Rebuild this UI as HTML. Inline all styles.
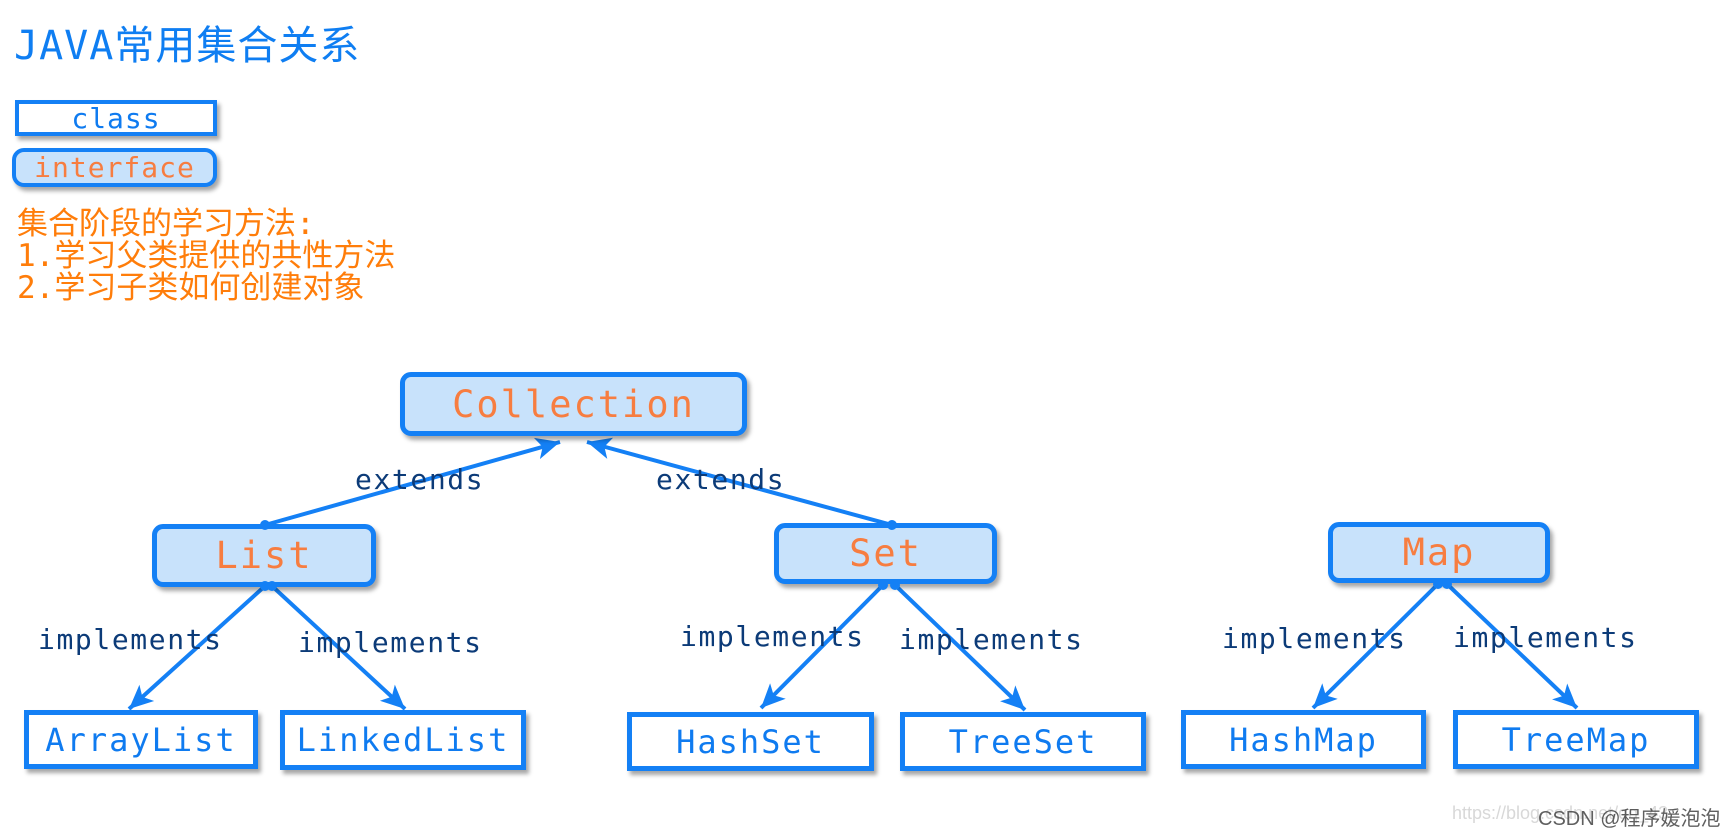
<!DOCTYPE html>
<html><head><meta charset="utf-8"><style>
body{margin:0;width:1732px;height:834px;background:#fff;position:relative;overflow:hidden;font-family:"DejaVu Sans Mono","Liberation Mono","Noto Sans CJK SC",monospace}
.b{position:absolute;box-sizing:border-box;border:5px solid #1480f5;display:flex;align-items:center;justify-content:center;box-shadow:3px 4px 4px rgba(0,0,0,.35)}
.c{background:#fff;color:#0f7bf0;font-size:32px;letter-spacing:2px}
.i{background:#c8e2fb;color:#f77d40;border-radius:11px;font-size:37px;letter-spacing:2px}
.l{position:absolute;color:#0c3b78;font-size:28px;letter-spacing:1.6px;line-height:30px;white-space:nowrap}
svg{position:absolute;left:0;top:0}
</style></head><body>
<div style="position:absolute;left:14px;top:22px;font-size:40px;line-height:48px;color:#0f7ef2;letter-spacing:1px;font-family:'DejaVu Sans Mono','Noto Sans CJK SC',monospace">JAVA常用集合关系</div>
<div class="b c" style="left:15px;top:100px;width:202px;height:36px;border-width:4px;font-size:28px;letter-spacing:1px">class</div>
<div class="b i" style="left:12px;top:148px;width:205px;height:39px;border-width:4px;font-size:28px;letter-spacing:1px;border-radius:12px">interface</div>
<div style="position:absolute;left:17px;top:208px;font-size:31px;line-height:32px;color:#ff7d0a;font-family:'DejaVu Sans Mono','Noto Sans CJK SC',monospace;white-space:pre">集合阶段的学习方法:
1.学习父类提供的共性方法
2.学习子类如何创建对象</div>

<svg width="1732" height="834">
<defs><marker id="a" markerUnits="userSpaceOnUse" markerWidth="30" markerHeight="24" refX="24" refY="12" orient="auto"><path d="M24,12 L0,1 L6,12 L0,23 Z" fill="#1480f5"/></marker></defs>
<g stroke="#1480f5" stroke-width="4" fill="none">
<line x1="265" y1="525" x2="560" y2="442" marker-end="url(#a)"/>
<line x1="892" y1="525" x2="587" y2="442" marker-end="url(#a)"/>
<line x1="265" y1="586" x2="129" y2="709" marker-end="url(#a)"/>
<line x1="272" y1="586" x2="405" y2="709" marker-end="url(#a)"/>
<line x1="883" y1="585" x2="761" y2="708" marker-end="url(#a)"/>
<line x1="895" y1="585" x2="1025" y2="710" marker-end="url(#a)"/>
<line x1="1438" y1="584" x2="1313" y2="708" marker-end="url(#a)"/>
<line x1="1447" y1="584" x2="1577" y2="708" marker-end="url(#a)"/>
</g>
</svg>

<div class="b i" style="left:400px;top:372px;width:347px;height:64px">Collection</div>
<div class="b i" style="left:152px;top:524px;width:224px;height:63px">List</div>
<div class="b i" style="left:774px;top:523px;width:223px;height:61px">Set</div>
<div class="b i" style="left:1328px;top:522px;width:222px;height:61px">Map</div>
<div class="b c" style="left:24px;top:710px;width:234px;height:59px">ArrayList</div>
<div class="b c" style="left:280px;top:710px;width:246px;height:60px">LinkedList</div>
<div class="b c" style="left:627px;top:712px;width:247px;height:59px">HashSet</div>
<div class="b c" style="left:900px;top:712px;width:246px;height:59px">TreeSet</div>
<div class="b c" style="left:1181px;top:710px;width:245px;height:59px">HashMap</div>
<div class="b c" style="left:1453px;top:710px;width:246px;height:59px">TreeMap</div>

<svg width="1732" height="834"><g fill="#1480f5">
<circle cx="265" cy="525" r="5"/><circle cx="892" cy="525" r="5"/>
<circle cx="265" cy="586" r="5"/><circle cx="272" cy="586" r="5"/>
<circle cx="883" cy="585" r="5"/><circle cx="895" cy="585" r="5"/>
<circle cx="1438" cy="584" r="5"/><circle cx="1447" cy="584" r="5"/>
</g></svg>

<div class="l" style="left:355px;top:465px">extends</div>
<div class="l" style="left:656px;top:465px">extends</div>
<div class="l" style="left:38px;top:625px">implements</div>
<div class="l" style="left:298px;top:628px">implements</div>
<div class="l" style="left:680px;top:622px">implements</div>
<div class="l" style="left:899px;top:625px">implements</div>
<div class="l" style="left:1222px;top:624px">implements</div>
<div class="l" style="left:1453px;top:623px">implements</div>

<div style="position:absolute;left:1452px;top:803px;font-family:'Liberation Sans','Noto Sans CJK SC',sans-serif;font-size:18px;color:#d8d8d8;white-space:nowrap">https://blog.csdn.net/qq_43</div>
<div style="position:absolute;left:1538px;top:802px;font-family:'Liberation Sans','Noto Sans CJK SC',sans-serif;font-size:20px;color:#444;white-space:nowrap;opacity:.85">CSDN @程序媛泡泡</div>
</body></html>
